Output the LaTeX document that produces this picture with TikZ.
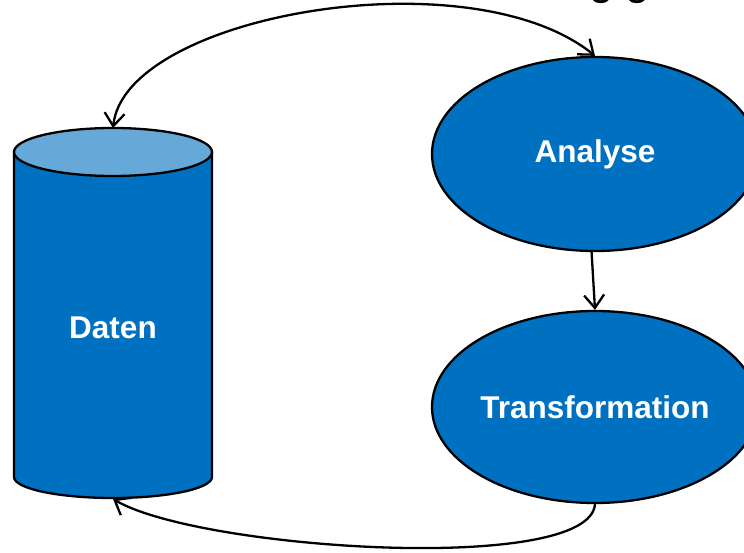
\documentclass[tikz,border=0pt]{standalone}
\usepackage{fontspec}
\setmainfont{Liberation Sans}
\usetikzlibrary{shapes.geometric,arrows.meta}
\definecolor{blau}{HTML}{0070C0}
\definecolor{hellblau}{HTML}{66A8D8}

\begin{document}
\begin{tikzpicture}[x=1pt,y=-1pt,line width=2.3pt,
    pfeil/.style={-{Straight Barb[length=13pt,width=20pt]}},
    oval/.style={ellipse,draw,fill=blau,text=white,inner sep=0pt,
        minimum width=326pt,minimum height=194pt,
        font=\bfseries\fontsize{31.5}{36}\selectfont}]
    \useasboundingbox (0,0) rectangle (744,553);
    % Zylinder
    \coordinate (DT) at (113,128);
    \coordinate (DB) at (113,499);
    \filldraw[fill=blau] (14,152) -- (14,477)
        arc[start angle=180,end angle=0,x radius=99,y radius=21]
        -- (212,152);
    \filldraw[fill=hellblau] (113,152) ellipse[x radius=99,y radius=24];
    \node[text=white,font=\bfseries\fontsize{31.5}{36}\selectfont] (daten) at (113,328) {Daten};
    \node[oval] (analyse) at (595,154) {Analyse};
    \node[oval,minimum height=192pt] (trans) at (595,407) {Transformation};
    \node[anchor=base west,inner sep=0pt,font=\fontsize{44}{50}\selectfont] (titel) at (588,-5) {g g};
    \draw[{Straight Barb[length=13pt,width=20pt]}-{Straight Barb[length=13pt,width=20pt]}]
        (DT) .. controls (125,15) and (470,-45) .. (analyse.north);
    \draw[pfeil] (analyse.268) -- (trans.north);
    \draw[pfeil] (trans.south) .. controls (590,575) and (200,550) .. (DB);
\end{tikzpicture}
\end{document}
